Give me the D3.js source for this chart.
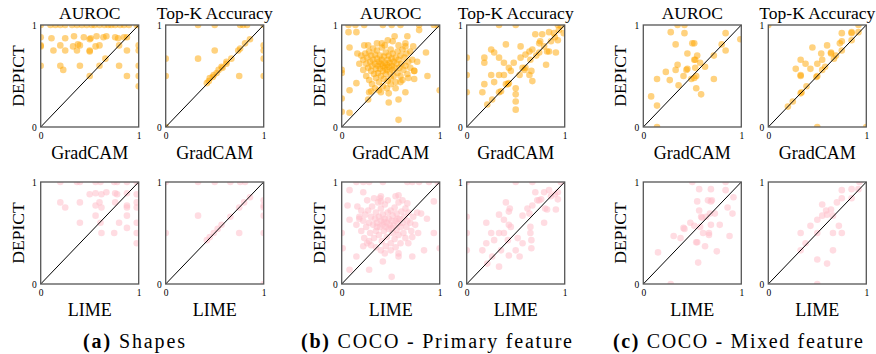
<!DOCTYPE html>
<html>
<head>
<meta charset="utf-8">
<script src="https://cdn.jsdelivr.net/npm/d3@7"></script>
<style>
  body { margin: 0; background: #fff; }
  svg text { font-family: "Liberation Serif", "Times New Roman", Times, serif; fill: #000; }
</style>
</head>
<body>
<svg id="chart" width="876" height="354"></svg>
<script>
// sub-figures, metrics (columns) and explanation methods (rows)
var groupTags = ["(a)", "(b)", "(c)"];
var groupNames = ["Shapes", "COCO - Primary feature", "COCO - Mixed feature"];
var metrics = ["AUROC", "Top-K Accuracy"];
var methods = ["GradCAM", "LIME"];
var tickValues = [0, 1];

// each point is [method score, DEPICT score]
var shapesGradcamAuroc = [
  [0,1],[0.1,1],[0.15,1],[0.2,1],[0.25,1],[0.32,1],[0.37,1],[0.42,1],[0.47,1],[0.52,1],[0.55,1],[0.6,1],[0.65,1],
  [0.69,1],[0.72,1],[0.76,1],[0.81,1],[0.85,1],[0.9,1],[0.98,1],[1,1],
  [0,0.88],[0.11,0.87],[0.25,0.87],[0.34,0.89],[0.44,0.88],[0.51,0.87],[0.57,0.89],[0.64,0.88],[0.67,0.89],
  [0.76,0.88],[0.79,0.87],[0.88,0.88],[0.85,0.88],[0.5,0.86],
  [0,0.8],[0,0.79],[0.2,0.8],[0.4,0.8],[0.6,0.8],[0.8,0.8],[1,0.8],[0.13,0.75],[0.25,0.75],[0.33,0.79],
  [0.37,0.75],[0.5,0.75],[0.5,0.74],[0.56,0.79],[0.88,0.75],[1,0.75],[0.38,0.81],
  [0.66,0.67],
  [0,0.6],[0.2,0.6],[0.4,0.6],[0.6,0.6],[0.8,0.6],[1,0.6],[0.23,0.56],
  [0.5,0.5],[0.88,0.5],[1,0.5],[1,0.4]
];
var shapesGradcamTopk = [
  [0.33,1],[0.5,1],[0.76,1],[0.79,1],[0.83,1],[1,1],
  [0.42,0.43],[0.44,0.45],[0.45,0.48],[0.48,0.49],[0.49,0.51],[0.52,0.53],[0.54,0.56],[0.57,0.59],[0.58,0.58],
  [0.62,0.64],[0.62,0.62],[0.67,0.67],[0.74,0.75],[0.76,0.77],[0.81,0.82],[0.86,0.86],
  [0.5,0.75],[0.33,0.67],[0.75,0.5],[0,0.67],[0,0.5],[1,0.8],[1,0.75],[1,0.67],[1,0.5],[0,0]
];
var shapesLimeAuroc = [
  [0.2,1],[0.37,1],[0.4,1],[0.56,1],[0.61,1],[0.75,1],[0.78,1],[0.88,1],[0.98,1],
  [0.5,0.88],[0.56,0.89],[0.62,0.88],[0.67,0.9],[0.76,0.89],[0.78,0.88],[0.88,0.89],[0.98,0.88],
  [0.2,0.8],[0.25,0.75],[0.4,0.8],[0.56,0.77],[0.6,0.8],[0.62,0.75],[0.76,0.8],[0.88,0.77],[0.88,0.75],
  [0.98,0.8],[0.98,0.75],
  [0.56,0.67],[0.88,0.67],
  [0.4,0.6],[0.61,0.6],[0.8,0.6],[0.98,0.6],[0.88,0.55],
  [0.62,0.5],[0.75,0.5],[0.98,0.5],[0.98,0.4]
];
var shapesLimeTopk = [
  [0,1],[0.33,1],[0.5,1],[0.66,1],[0.76,1],[0.81,1],
  [0.42,0.43],[0.45,0.46],[0.49,0.5],[0.53,0.54],[0.57,0.58],[0.66,0.66],[0.75,0.75],[0.8,0.8],[0.86,0.85],
  [0.33,0.67],[0.75,0.5],[0,0.5],[1,0.82],[1,0.77],[1,0.75],[1,0.67],[1,0.5],[1,0]
];

var primaryGradcamAuroc = [
  [0.07,1],[0.14,1],[0.23,1],[0.42,1],[0.51,1],[0.6,1],[0.79,1],[0.94,1],[0.98,1],
  [0.07,0.93],[0.15,0.93],[0.08,0.78],[0.23,0.8],[0.41,0.82],[0.47,0.85],[0.54,0.89],[0.67,0.89],[0.79,0.95],
  [0.73,0.79],[0.65,0.79],[0.86,0.73],
  [0,0.56],[0,0.28],[0.08,0.36],[0,0.15],[0.08,0.14],[0.58,0.07],[0.48,0.24],[0.58,0.27],[0.65,0.34],
  [0.875,0.5],[1,0.36],[0.74,0.55],[0.77,0.64],[0.74,0.47],[0.27,0.27],[0.28,0.34],[0.15,0.43],[0,0.53],
  [0.20,0.70],[0.22,0.66],[0.24,0.72],[0.25,0.62],[0.26,0.68],[0.27,0.58],[0.28,0.74],[0.29,0.64],[0.30,0.55],[0.30,0.70],
  [0.31,0.60],[0.32,0.77],[0.32,0.66],[0.33,0.52],[0.34,0.62],[0.34,0.71],[0.35,0.57],[0.35,0.48],[0.36,0.67],[0.36,0.75],
  [0.37,0.60],[0.37,0.53],[0.38,0.64],[0.38,0.44],[0.39,0.70],[0.39,0.57],[0.40,0.62],[0.40,0.50],[0.41,0.66],[0.41,0.78],
  [0.42,0.55],[0.42,0.60],[0.43,0.47],[0.43,0.69],[0.44,0.58],[0.44,0.63],[0.45,0.52],[0.45,0.73],[0.46,0.56],[0.46,0.61],
  [0.47,0.66],[0.47,0.45],[0.48,0.59],[0.48,0.70],[0.49,0.54],[0.49,0.63],[0.50,0.76],[0.50,0.48],[0.51,0.60],[0.51,0.67],
  [0.52,0.56],[0.52,0.72],[0.53,0.50],[0.53,0.64],[0.54,0.58],[0.55,0.68],[0.55,0.44],[0.56,0.62],[0.57,0.53],[0.57,0.74],
  [0.58,0.66],[0.59,0.58],[0.60,0.70],[0.60,0.50],[0.61,0.62],[0.62,0.76],[0.63,0.56],[0.64,0.68],[0.65,0.60],[0.66,0.72],
  [0.67,0.52],[0.68,0.64],[0.70,0.58],[0.72,0.66],[0.74,0.55],[0.22,0.56],[0.25,0.50],[0.28,0.46],[0.31,0.42],[0.34,0.38],
  [0.38,0.36],[0.42,0.40],[0.46,0.38],[0.50,0.42],[0.55,0.38],[0.60,0.44],[0.36,0.82],[0.44,0.80],[0.52,0.84],[0.58,0.80],
  [0.18,0.62],[0.16,0.72],[0.27,0.80],[0.62,0.46],[0.68,0.48],[0.40,0.34],[0.30,0.35],[0.48,0.33],[0.65,0.82],[0.70,0.74]
];
var primaryGradcamTopk = [
  [0.33,1],[0.5,1],[0.93,1],[0.96,0.99],
  [0.70,0.91],[0.77,0.91],[0.84,0.93],[0.89,0.92],[0.94,0.95],[0.99,0.92],
  [0.75,0.84],[0.74,0.82],[0.93,0.85],[0.79,0.79],[0.84,0.74],[0.91,0.73],[0.82,0.74],
  [0.40,0.81],[0.55,0.79],[0.60,0.71],[0.64,0.74],[0.67,0.76],[0.71,0.70],[0.65,0.66],
  [0.25,0.76],[0.28,0.73],[0.33,0.68],[0.38,0.63],[0.43,0.58],[0.45,0.55],[0.48,0.63],[0.55,0.68],[0.57,0.58],[0.81,0.61],
  [0.18,0.68],[0.18,0.63],
  [0.25,0.51],[0.33,0.51],[0.38,0.51],[0.28,0.44],[0.18,0.42],[0.16,0.34],[0.33,0.34],[0.40,0.42],[0.43,0.43],
  [0.5,0.38],[0.5,0.32],[0.5,0.25],[0.5,0.17],[0.64,0.51],[0.67,0.45],[0.66,0.55],[0.59,0.56],
  [0.26,0.27],[0.21,0.22],[0.35,0.35],[0.42,0.42],[0.54,0.51],[0.60,0.58],[0.74,0.73],[0.86,0.84],[0.9,0.88],
  [0,0.68],[0,0.51],[0,0.34]
];
var primaryLimeAuroc = [
  [0.15,1],[0.22,1],[0.28,1],[0.42,1],[0.67,1],[0.72,1],[0.79,1],[0.89,1],[0.98,1],
  [0.08,0.92],[0.22,0.9],[0.06,0.77],[0.16,0.76],[0.08,0.63],[0.18,0.64],[0.15,0.58],[0.01,0.35],[0,0.5],
  [0.15,0.27],[0.08,0.14],[0.28,0.14],[0.51,0.07],[0.42,0.22],[0.58,0.27],[0.72,0.27],[0.84,0.33],[1,0.35],
  [0.94,0.5],[0.87,0.64],[0.94,0.81],[0.81,0.69],[0.58,0.87],[0.67,0.79],[0.39,0.84],[0.40,0.81],[0.22,0.37],[0.28,0.42],
  [0.22,0.62],[0.24,0.68],[0.25,0.56],[0.27,0.72],[0.28,0.60],[0.29,0.50],[0.30,0.66],[0.31,0.76],[0.32,0.58],[0.33,0.45],
  [0.34,0.64],[0.35,0.70],[0.35,0.52],[0.36,0.60],[0.37,0.80],[0.38,0.66],[0.38,0.48],[0.39,0.56],[0.40,0.62],[0.40,0.74],
  [0.41,0.42],[0.42,0.58],[0.42,0.68],[0.43,0.52],[0.44,0.64],[0.44,0.78],[0.45,0.56],[0.46,0.60],[0.46,0.46],[0.47,0.70],
  [0.48,0.54],[0.48,0.64],[0.49,0.58],[0.50,0.72],[0.50,0.40],[0.51,0.62],[0.52,0.50],[0.52,0.67],[0.53,0.57],[0.54,0.75],
  [0.54,0.44],[0.55,0.62],[0.56,0.53],[0.56,0.69],[0.57,0.59],[0.58,0.80],[0.58,0.48],[0.59,0.64],[0.60,0.56],[0.61,0.71],
  [0.62,0.60],[0.63,0.50],[0.64,0.66],[0.65,0.74],[0.66,0.56],[0.67,0.62],[0.68,0.70],[0.70,0.60],[0.71,0.52],[0.73,0.66],
  [0.75,0.58],[0.77,0.70],[0.20,0.52],[0.23,0.45],[0.26,0.40],[0.30,0.38],[0.35,0.36],[0.40,0.33],[0.45,0.37],[0.50,0.33],
  [0.55,0.36],[0.60,0.40],[0.65,0.45],[0.72,0.46],[0.33,0.84],[0.40,0.86],[0.47,0.82],[0.55,0.86],[0.62,0.82],[0.20,0.72],
  [0.18,0.66],[0.26,0.82],[0.44,0.30],[0.58,0.30],[0.68,0.40],[0.78,0.50],[0.36,0.56],[0.43,0.61],[0.51,0.55],[0.57,0.64]
];
var primaryLimeTopk = [
  [0,1],[0.5,1],[0.67,1],[0.96,1],
  [0.7,0.9],[0.79,0.9],[0.84,0.92],[0.93,0.9],[0.76,0.83],[0.74,0.82],[0.93,0.83],[0.72,0.82],
  [0.82,0.73],[0.91,0.73],[0.80,0.74],[0.79,0.6],[0.67,0.77],[0.62,0.74],[0.57,0.67],[0.64,0.69],
  [0.4,0.8],[0.44,0.74],[0.43,0.71],[0.33,0.68],[0.38,0.63],[0.43,0.58],[0.45,0.56],[0.2,0.6],
  [0.25,0.5],[0.33,0.5],[0.38,0.5],[0.28,0.43],[0.2,0.4],[0.16,0.33],[0.35,0.33],[0.42,0.43],[0.52,0.45],
  [0.5,0.33],[0.43,0.28],[0.54,0.27],[0.33,0.17],[0.57,0.4],[0.65,0.5],[0.66,0.43],[0.66,0.35],[0.65,0.56],
  [0,0.66],[0,0.5],[0,0.33],[0.21,0.2],[0.26,0.27],[0.86,0.86],[0.9,0.88]
];

var mixedGradcamAuroc = [
  [0.35,1],[0.42,1],[0.28,0.93],[0.42,0.92],[0.84,0.92],[0.33,0.81],[0.5,0.82],[0.52,0.82],[0.8,0.81],
  [0.84,0.75],[0.99,0.86],[0.45,0.72],[0.55,0.7],[0.52,0.66],[0.53,0.66],[0.72,0.7],[0.58,0.63],[0.35,0.61],
  [0.33,0.56],[0.23,0.54],[0.44,0.56],[0.45,0.57],[0.53,0.58],[0.63,0.59],[0.41,0.5],[0.27,0.46],[0.14,0.47],
  [0.52,0.48],[0.54,0.5],[0.72,0.47],[0.36,0.41],[0.54,0.38],[0.59,0.32],[0.08,0.3],[0.14,0.21],[0.14,0],[0.49,0.47]
];
var mixedGradcamTopk = [
  [0,1],[0.92,1],[0.75,0.92],[0.85,0.92],[0.85,0.93],[0.92,0.93],[0.75,0.84],[0.73,0.82],[0.85,0.85],
  [0.45,0.78],[0.6,0.8],[0.75,0.75],[0.54,0.72],[0.64,0.72],[0.64,0.73],[0.33,0.66],[0.38,0.62],[0.5,0.62],
  [0.55,0.66],[0.69,0.7],[0.67,0.67],[0.28,0.57],[0.43,0.57],[0.58,0.59],[0.55,0.56],[0.33,0.5],[0.33,0.51],
  [0.5,0.5],[0.49,0.49],[0.39,0.4],[0.33,0.33],[0.34,0.34],[0.25,0.25],[0.2,0.2],[0.5,0],[1,0]
];
var mixedLimeAuroc = [
  [0.5,1],[0.84,1],[0.57,0.93],[0.69,0.93],[0.84,0.92],[0.92,0.85],[0.55,0.81],[0.66,0.82],[0.69,0.81],
  [0.7,0.82],[0.86,0.75],[0.57,0.72],[0.68,0.69],[0.73,0.69],[0.91,0.69],[0.59,0.66],[0.6,0.65],[0.64,0.66],
  [0.48,0.6],[0.69,0.58],[0.78,0.58],[0.52,0.57],[0.58,0.56],[0.41,0.55],[0.42,0.54],[0.61,0.5],[0.67,0.5],
  [0.67,0.48],[0.88,0.47],[0.31,0.47],[0.38,0.45],[0.54,0.41],[0.55,0.41],[0.63,0.37],[0.75,0.32],
  [0.15,0.31],[0.56,0.21],[0.28,0]
];
var mixedLimeTopk = [
  [0.93,1],[0.75,0.92],[0.85,0.93],[0.92,0.93],[0.75,0.84],[0.7,0.8],[0.85,0.84],[0.55,0.78],[0.64,0.73],
  [0.59,0.72],[0.6,0.68],[0.55,0.67],[0.5,0.63],[0.66,0.67],[0.43,0.57],[0.72,0.57],[0.33,0.5],[0.5,0.5],
  [0.66,0.5],[0.75,0.5],[0.38,0.4],[0.33,0.33],[0.66,0.33],[0.5,0.24],[0.6,0.2],[0.5,0]
];

// grid of panels: [sub-figure][method row][metric column]
var panelData = [
  [[shapesGradcamAuroc, shapesGradcamTopk], [shapesLimeAuroc, shapesLimeTopk]],
  [[primaryGradcamAuroc, primaryGradcamTopk], [primaryLimeAuroc, primaryLimeTopk]],
  [[mixedGradcamAuroc, mixedGradcamTopk], [mixedLimeAuroc, mixedLimeTopk]]
];

// layout
var serif = "'Liberation Serif', 'Times New Roman', Times, serif";
var groupLeft = [40.7, 341.7, 643.3];
var colStep = 125;
var rowTop = [25, 182];
var pw = 98, ph = 102;
var methodColor = ["orange", "pink"];
var methodOpacity = [0.5, 0.55];
var captionLeft = [83, 301, 613];
var captionWidth = [102, 271, 250];

var svg = d3.select("#chart");

var x = d3.scaleLinear().domain([0, 1]).range([0, pw]);
var y = d3.scaleLinear().domain([0, 1]).range([ph, 0]);

var panels = [];
panelData.forEach(function(g, gi) {
  g.forEach(function(r, ri) {
    r.forEach(function(pts, ci) {
      panels.push({g: gi, row: ri, col: ci, pts: pts});
    });
  });
});

var defs = svg.append("defs");

panels.forEach(function(p, i) {
  var left = groupLeft[p.g] + p.col * colStep;
  var top = rowTop[p.row];
  var pg = svg.append("g").attr("transform", "translate(" + left + "," + top + ")");

  defs.append("clipPath").attr("id", "clip" + i)
    .append("rect").attr("width", pw).attr("height", ph);

  pg.append("g")
      .attr("clip-path", "url(#clip" + i + ")")
    .selectAll("circle")
    .data(p.pts)
    .enter().append("circle")
      .attr("cx", function(d) { return x(d[0]); })
      .attr("cy", function(d) { return y(d[1]); })
      .attr("r", 3.3)
      .attr("fill", methodColor[p.row])
      .attr("fill-opacity", methodOpacity[p.row]);

  // identity line
  pg.append("line")
    .attr("x1", x(0)).attr("y1", y(0))
    .attr("x2", x(1)).attr("y2", y(1))
    .attr("stroke", "#000").attr("stroke-width", 1);

  pg.append("rect")
    .attr("width", pw).attr("height", ph)
    .attr("fill", "none").attr("stroke", "#555").attr("stroke-width", 1.3);

  var xa = pg.append("g").attr("transform", "translate(0," + ph + ")")
    .call(d3.axisBottom(x).tickValues(tickValues).tickSize(0).tickPadding(5).tickFormat(d3.format("d")));
  var ya = pg.append("g")
    .call(d3.axisLeft(y).tickValues(tickValues).tickSize(0).tickPadding(4).tickFormat(d3.format("d")));
  [xa, ya].forEach(function(a) {
    a.attr("font-family", null);
    a.select(".domain").remove();
    a.selectAll("text").style("font-family", serif).style("font-size", "9.5px");
  });

  if (p.row === 0) {
    pg.append("text")
      .attr("x", pw / 2).attr("y", -6)
      .attr("text-anchor", "middle")
      .style("font-family", serif)
      .style("font-size", "17.5px")
      .text(metrics[p.col]);
  }
  pg.append("text")
    .attr("x", pw / 2).attr("y", ph + 32)
    .attr("text-anchor", "middle")
    .style("font-family", serif)
    .style("font-size", "18px")
    .text(methods[p.row]);
  if (p.col === 0) {
    pg.append("text")
      .attr("transform", "translate(-17," + (ph / 2) + ") rotate(-90)")
      .attr("text-anchor", "middle")
      .style("font-family", serif)
      .style("font-size", "17.5px")
      .text("DEPICT");
  }
});

groupTags.forEach(function(tag, gi) {
  var t = svg.append("text")
    .attr("x", captionLeft[gi]).attr("y", 348)
    .attr("textLength", captionWidth[gi])
    .attr("lengthAdjust", "spacing")
    .style("font-family", serif)
    .style("font-size", "20px");
  t.append("tspan").style("font-weight", "bold").text(tag);
  t.append("tspan").text(" " + groupNames[gi]);
});
</script>
</body>
</html>
